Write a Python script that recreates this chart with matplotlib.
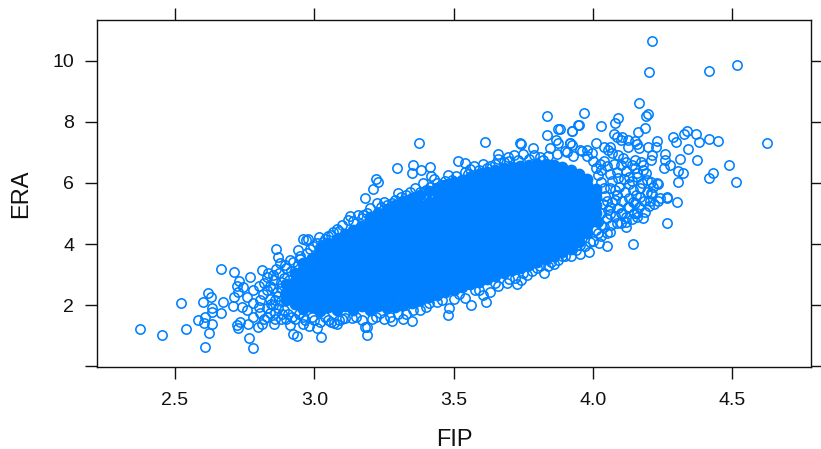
import matplotlib
matplotlib.use("Agg")
import matplotlib.pyplot as plt

plt.rcParams['font.family'] = ['Liberation Sans', 'DejaVu Sans']

x_ticks = [2.5, 3.0, 3.5, 4.0, 4.5]
y_ticks = [0, 2, 4, 6, 8, 10]
y_tick_labels = ["", "2", "4", "6", "8", "10"]

# Individually readable pitchers (FIP, ERA) around the edge of the cloud
edge_left = [
 (2.375,1.20),(2.452,1.01),(2.538,1.21),(2.52,2.07),(2.609,0.61),(2.621,1.08),(2.599,2.11),(2.62,2.38),
 (2.629,2.28),(2.633,1.89),(2.633,1.78),(2.672,2.09),(2.664,1.73),(2.664,3.17),(2.712,3.07),(2.584,1.51),
 (2.608,1.60),(2.603,1.40),(2.633,1.38),(2.768,2.91),(2.811,3.14),(2.861,3.83),(2.87,3.58),(2.863,3.17),
 (2.765,0.92),(2.779,0.59),(2.924,1.04),(2.938,0.98),(3.025,0.95),(3.009,1.24),(2.854,1.37),(2.725,1.24),
 (2.721,1.34),(2.733,1.45),(2.763,1.38),(2.799,1.29),(2.812,1.38),(2.712,2.27),(2.709,1.97),(2.721,2.62),
 (2.73,2.80),(2.726,2.44),(2.739,1.94),(2.744,2.60),(2.757,2.27),(2.757,1.85),(2.781,2.49),(2.78,2.07),
 (2.78,1.62),(2.805,2.16),(2.805,1.73),(2.829,2.93),(2.829,2.49),(2.829,1.9),(2.829,1.6),(2.877,3.37),
 (2.85,3.0),(2.85,2.55),(2.85,2.0),(2.88,1.55),(2.87,2.3),(2.913,3.48),(2.94,3.80),(2.96,4.15),
 (2.978,4.18),(2.97,4.12),(3.016,4.24),(2.985,3.83),(2.95,3.6),(3.068,4.40),(2.912,1.34),(2.958,1.38),
 (2.98,1.3),(3.06,1.45),(3.07,1.4),(2.88,2.75),(2.89,1.85),(2.9,1.55),(2.84,2.2),(2.86,1.75),
 (2.9,3.2),(2.93,1.55),(2.96,1.6),(3.0,1.5),(3.04,1.62),(3.1,1.55),(3.03,4.05),(3.05,4.25),
]
fill_left = [
 (2.80,2.62),(2.80,1.95),(2.815,2.35),(2.82,2.72),(2.82,1.55),(2.835,3.05),(2.84,2.62),(2.84,1.75),
 (2.845,2.05),(2.855,2.82),(2.86,2.18),(2.86,1.55),(2.865,2.42),(2.87,1.9),(2.875,3.05),(2.88,2.55),
 (2.88,2.12),(2.885,1.7),(2.89,2.9),(2.895,2.35),(2.895,3.3),(2.905,1.72),(2.91,2.82),(2.915,3.12),
 (2.92,1.6),(2.925,3.42),(2.94,3.3),(2.945,1.7),(2.95,3.5),(2.965,1.5),(2.975,3.7),(2.99,1.62),
 (2.995,3.95),(3.01,4.02),(3.02,1.45),(3.04,4.18),(3.05,1.5),(3.06,4.3),(3.09,1.5),(3.09,4.42),
]
edge_top = [
 (3.375,7.30),(3.613,7.34),(3.296,6.50),(3.353,6.59),(3.352,6.34),(3.382,6.43),(3.416,6.52),(3.419,6.23),
 (3.391,5.99),(3.22,6.13),(3.228,6.02),(3.212,5.80),(3.181,5.52),(3.224,5.33),(3.128,4.92),(3.302,5.68),
 (3.343,5.72),(3.517,6.73),(3.541,6.65),(3.573,6.57),(3.607,6.62),(3.658,6.94),(3.66,6.78),(3.694,6.86),
 (3.717,6.91),(3.743,7.28),(3.738,7.32),(3.785,7.15),(3.748,6.94),(3.81,6.86),(3.834,7.58),(3.875,7.78),
 (3.924,7.70),(3.867,7.41),(3.876,7.30),(3.918,7.30),(3.846,7.14),(3.948,7.91),(3.834,8.18),(3.493,6.10),
 (3.457,5.93),(3.541,6.37),(3.415,5.88),(3.379,5.72),(3.26,5.28),(3.278,5.33),(3.176,4.95),(3.2,5.17),
 (3.157,4.95),(3.1,4.62),(3.08,4.5),(3.14,4.75),(3.24,5.2),(3.31,5.55),(3.44,6.0),(3.48,6.25),
 (3.56,6.45),(3.63,6.55),(3.68,6.7),(3.77,6.8),(3.84,6.9),(3.9,7.05),(3.96,7.05),
 (3.12,4.8),(3.17,4.85),(3.19,5.02),(3.25,5.38),(3.29,5.45),(3.33,5.62),(3.36,5.85),(3.4,5.78),
 (3.43,6.12),(3.47,6.05),(3.51,6.22),(3.55,6.28),(3.59,6.42),(3.62,6.48),(3.65,6.62),(3.7,6.72),
 (3.73,6.75),(3.79,6.92),(3.82,6.75),(3.87,6.95),(3.93,6.9),(3.98,6.88),
]
edge_right = [
 (4.212,10.66),(4.201,9.65),(4.418,9.67),(4.516,9.86),(4.167,8.61),(4.19,8.21),(4.199,8.25),(3.968,8.30),
 (4.09,8.12),(4.08,7.98),(4.03,7.88),(3.949,7.90),(3.924,7.70),(4.188,7.80),(4.161,7.67),(4.077,7.60),
 (4.085,7.52),(4.104,7.52),(4.10,7.41),(4.127,7.41),(4.151,7.39),(4.159,7.28),(4.165,7.14),(4.125,7.19),
 (4.229,7.39),(4.226,7.17),(4.199,7.19),(4.289,7.49),(4.30,7.33),(4.328,7.61),(4.336,7.70),(4.37,7.60),
 (4.382,7.35),(4.415,7.43),(4.45,7.39),(4.625,7.31),(4.34,7.11),(4.26,6.96),(4.313,6.79),(4.372,6.75),
 (4.258,6.75),(4.211,6.92),(4.207,6.75),(4.173,6.68),(4.181,6.59),(4.277,6.60),(4.255,6.50),(4.49,6.60),
 (4.432,6.32),(4.415,6.15),(4.304,6.40),(4.325,6.34),(4.304,6.02),(4.515,6.02),(4.232,5.97),(4.19,6.32),
 (4.207,6.02),(4.267,5.55),(4.303,5.37),(4.241,5.51),(4.211,5.63),(4.012,7.30),(3.918,7.31),(3.925,7.25),
 (4.041,7.19),(4.061,7.19),(4.055,7.08),(4.067,6.97),(3.954,7.08),(3.978,7.08),(3.995,6.97),(3.906,7.03),
 (4.09,6.92),(4.109,6.81),(3.882,7.76),(4.139,6.59),(4.157,6.32),(4.175,5.99),(4.145,5.77),(4.193,5.72),
 (4.144,4.0),(4.267,4.69),(4.1,4.7),(4.12,4.9),(4.16,5.0),(4.2,5.25),(4.06,4.4),(4.12,4.55),
 (4.18,4.85),(4.15,5.35),(4.13,6.2),(4.12,6.4),(4.14,6.05),(4.17,5.55),(4.13,5.2),(4.15,6.75),
 (4.12,4.73),(4.085,4.70),(4.187,5.06),(4.148,5.03),(4.265,5.52),(4.234,5.41),(4.21,5.67),(4.23,5.99),
]
fill_right = [
 (4.01,4.45),(4.02,4.72),(4.025,6.62),(4.03,5.02),(4.03,6.42),(4.035,5.32),(4.04,4.55),(4.04,6.72),
 (4.045,5.58),(4.05,4.85),(4.05,6.55),(4.055,5.12),(4.06,5.85),(4.06,6.28),(4.065,4.62),(4.07,5.38),
 (4.07,6.08),(4.075,6.62),(4.08,4.92),(4.085,5.62),(4.085,6.35),(4.09,5.18),(4.095,5.88),(4.10,6.58),
 (4.105,4.98),(4.105,5.42),(4.11,6.12),(4.115,5.72),(4.12,6.7),(4.125,5.22),(4.13,5.52),(4.13,5.95),
 (4.14,4.82),(4.145,5.38),(4.15,6.48),(4.155,5.62),(4.16,6.18),(4.165,5.22),(4.17,5.85),(4.18,6.42),
 (4.185,5.42),(4.195,6.1),(4.205,5.42),(4.215,5.88),(4.22,5.32),(4.16,4.88),
 (4.0,6.72),(4.01,6.5),(4.02,6.25),(4.03,6.02),(4.02,4.35),(4.03,4.62),(4.04,5.82),(4.05,5.42),
 (4.06,4.98),(4.06,5.22),(4.08,5.45),(4.08,5.78),(4.09,6.15),(4.1,5.0),
]
edge_bottom = [
 (4.052,3.94),(3.986,3.73),(3.954,3.66),(3.92,3.62),(3.824,3.04),(3.726,2.69),(3.741,2.82),(3.615,2.09),
 (3.564,2.0),(3.485,1.91),(3.481,1.66),(3.411,2.06),(3.352,1.48),(3.317,1.54),(3.28,1.48),(3.182,1.29),
 (3.19,1.27),(3.08,1.37),(3.206,1.53),(3.134,1.56),(3.236,1.75),(3.355,1.84),(3.607,2.33),(3.631,2.44),
 (3.541,2.22),(3.577,2.49),(3.691,2.72),(3.762,2.98),(3.798,3.2),(3.84,3.28),(3.876,3.48),(4.05,4.35),
 (4.023,4.02),(3.954,3.97),(3.918,3.91),(3.99,4.08),(3.19,1.02),(3.15,1.6),(3.25,1.55),(3.3,1.7),
 (3.38,1.85),(3.44,2.1),(3.5,2.2),(3.66,2.62),(3.72,2.88),(3.78,3.1),(3.86,3.35),(3.9,3.62),
 (3.11,1.58),(3.17,1.5),(3.22,1.62),(3.27,1.62),(3.33,1.72),(3.4,1.95),(3.46,2.18),(3.52,2.36),
 (3.59,2.48),(3.65,2.72),(3.7,2.85),(3.75,3.05),(3.81,3.28),(3.85,3.42),(3.89,3.6),(3.94,3.8),
 (3.97,3.95),(4.0,4.1),(4.03,4.25),
]

# Dense middle of the cloud, read as one FIP value with the ERA values stacked on it
core_fip = [2.90,2.93,2.96,2.99,3.02,3.05,3.08,3.11,3.14,3.17,3.20,3.23,3.26,3.29,3.32,3.35,3.38,3.41,3.44,3.47,3.50,
            3.53,3.56,3.59,3.62,3.65,3.68,3.71,3.74,3.77,3.80,3.83,3.86,3.89,3.92,3.95,3.98,4.01]
core_era = [
 [2.17,2.41,2.69],
 [2.02,2.28,2.55,2.80,3.05],
 [1.88,2.13,2.40,2.66,2.93,3.18,3.38],
 [1.95,2.22,2.47,2.74,3.00,3.26,3.55],
 [1.82,2.09,2.35,2.60,2.87,3.13,3.39,3.66,3.88],
 [1.95,2.21,2.48,2.73,3.00,3.26,3.52,3.78,4.02],
 [1.83,2.08,2.35,2.61,2.86,3.13,3.39,3.65,3.92,4.18],
 [1.96,2.22,2.47,2.74,3.00,3.26,3.52,3.79,4.05,4.32],
 [1.84,2.09,2.36,2.61,2.88,3.14,3.39,3.66,3.92,4.18,4.45],
 [1.97,2.23,2.49,2.75,3.01,3.27,3.53,3.79,4.05,4.31,4.58],
 [1.85,2.10,2.36,2.62,2.88,3.14,3.40,3.66,3.92,4.18,4.44,4.72,4.88],
 [1.98,2.24,2.50,2.76,3.02,3.28,3.54,3.80,4.06,4.32,4.58,4.84,5.02],
 [1.90,2.12,2.38,2.64,2.90,3.16,3.42,3.68,3.94,4.20,4.46,4.72,4.98,5.15],
 [1.95,2.25,2.51,2.77,3.03,3.29,3.55,3.81,4.07,4.33,4.59,4.85,5.11,5.28],
 [2.00,2.26,2.52,2.78,3.04,3.30,3.56,3.82,4.08,4.34,4.60,4.86,5.12,5.40],
 [2.08,2.36,2.62,2.88,3.14,3.40,3.66,3.92,4.18,4.44,4.70,4.96,5.22,5.50],
 [2.15,2.42,2.68,2.94,3.20,3.46,3.72,3.98,4.24,4.50,4.76,5.02,5.28,5.62],
 [2.25,2.53,2.79,3.05,3.31,3.57,3.83,4.09,4.35,4.61,4.87,5.13,5.39,5.73],
 [2.33,2.58,2.84,3.10,3.36,3.62,3.88,4.14,4.40,4.66,4.92,5.18,5.44,5.70,5.83],
 [2.42,2.70,2.96,3.22,3.48,3.74,4.00,4.26,4.52,4.78,5.04,5.30,5.56,5.82,5.92],
 [2.50,2.76,3.02,3.28,3.54,3.80,4.06,4.32,4.58,4.84,5.10,5.36,5.62,5.88,6.02],
 [2.60,2.87,3.13,3.39,3.65,3.91,4.17,4.43,4.69,4.95,5.21,5.47,5.73,5.99,6.10],
 [2.68,2.94,3.20,3.46,3.72,3.98,4.24,4.50,4.76,5.02,5.28,5.54,5.80,6.06,6.20],
 [2.77,3.03,3.29,3.55,3.81,4.07,4.33,4.59,4.85,5.11,5.37,5.63,5.89,6.15,6.28],
 [2.86,3.12,3.38,3.64,3.90,4.16,4.42,4.68,4.94,5.20,5.46,5.72,5.98,6.24,6.35],
 [2.95,3.21,3.47,3.73,3.99,4.25,4.51,4.77,5.03,5.29,5.55,5.81,6.07,6.33,6.42],
 [3.05,3.31,3.57,3.83,4.09,4.35,4.61,4.87,5.13,5.39,5.65,5.91,6.17,6.40,6.48],
 [3.14,3.38,3.64,3.90,4.16,4.42,4.68,4.94,5.20,5.46,5.72,5.98,6.24,6.53],
 [3.23,3.50,3.76,4.02,4.28,4.54,4.80,5.06,5.32,5.58,5.84,6.10,6.36,6.56],
 [3.32,3.58,3.84,4.10,4.36,4.62,4.88,5.14,5.40,5.66,5.92,6.18,6.44,6.60],
 [3.42,3.69,3.95,4.21,4.47,4.73,4.99,5.25,5.51,5.77,6.03,6.29,6.55,6.62],
 [3.52,3.78,4.04,4.30,4.56,4.82,5.08,5.34,5.60,5.86,6.12,6.38,6.63],
 [3.62,3.89,4.15,4.41,4.67,4.93,5.19,5.45,5.71,5.97,6.23,6.49,6.58],
 [3.74,4.00,4.26,4.52,4.78,5.04,5.30,5.56,5.82,6.08,6.34,6.52],
 [3.85,4.12,4.38,4.64,4.90,5.16,5.42,5.68,5.94,6.20,6.42],
 [4.05,4.23,4.49,4.75,5.01,5.27,5.53,5.79,6.05,6.28],
 [4.36,4.62,4.88,5.14,5.40,5.66,5.92,6.12],
 [4.77,5.03,5.29,5.55,5.81],
]

BLUE = "#0080ff"
fig = plt.figure(figsize=(8.21, 4.49), dpi=100)
ax = fig.add_axes([97/821, 1-367/449, 713.5/821, 347/449])
ax.set_xlim(2.22, 4.781)
ax.set_ylim(-0.03, 11.34)

core_x = [f for f, col in zip(core_fip, core_era) for _ in col]
core_y = [e for col in core_era for e in col]
ax.plot(core_x, core_y, ls="none", marker="o", ms=8.5, mfc=BLUE, mec=BLUE, mew=0)

edge = edge_left + fill_left + edge_top + edge_right + fill_right + edge_bottom
edge_x = [p[0] for p in edge]
edge_y = [p[1] for p in edge]
ax.plot(edge_x, edge_y, ls="none", marker="o", ms=6.7, mfc="none", mec=BLUE, mew=1.15)

ax.set_xticks(x_ticks)
ax.set_xticklabels([str(v) for v in x_ticks])
ax.set_yticks(y_ticks)
ax.set_yticklabels(y_tick_labels)
ax.tick_params(axis="both", which="major", direction="out", length=8.5, width=1.0,
               color="#111111", labelcolor="#111111", labelsize=14,
               top=True, right=True, bottom=True, left=True)
ax.tick_params(axis="x", pad=9.5)
ax.tick_params(axis="y", pad=8)
for s in ax.spines.values():
    s.set_linewidth(1.0)
    s.set_color("#111111")

fig.text(454/821, 1-445.5/449, "FIP", ha="center", va="baseline", fontsize=17, color="#111111")
fig.text(21/821, 1-194/449, "ERA", ha="center", va="center", rotation=90, fontsize=17, color="#111111")

fig.savefig("out.png", dpi=100)
